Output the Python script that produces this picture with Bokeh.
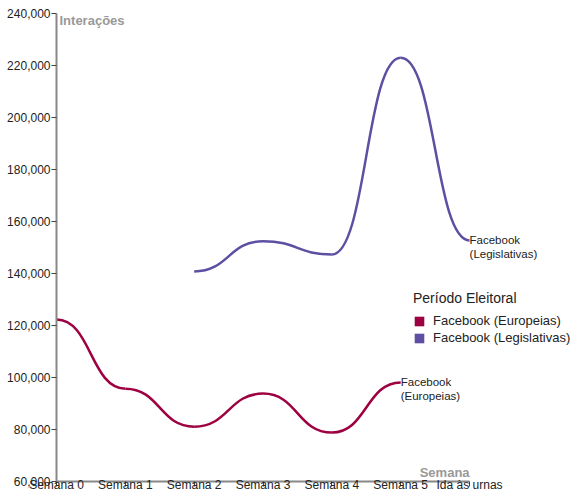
from bokeh.plotting import figure
from bokeh.models import (Range1d, FixedTicker, NumeralTickFormatter, Label,
                          Legend, LegendItem, ColumnDataSource)
from bokeh.core.properties import value
from bokeh.embed import file_html
from bokeh.resources import INLINE

# ---- data ----
weeks = ["Semana 0", "Semana 1", "Semana 2", "Semana 3", "Semana 4", "Semana 5", "Ida às urnas"]
series_names = ["Facebook (Europeias)", "Facebook (Legislativas)"]
europeias_idx = [0, 1, 2, 3, 4, 5]
europeias = [122300, 95700, 81100, 93800, 78800, 98100]
legislativas_idx = [2, 3, 4, 5, 6]
legislativas = [140800, 152400, 147300, 223000, 152700]
colors = ["#9e0142", "#5e4fa2"]
y_ticks = [60000, 80000, 100000, 120000, 140000, 160000, 180000, 200000, 220000, 240000]


def bump_x(xs, ys):
    """d3.curveBumpX: cubic segments with horizontal tangents at each point."""
    d = dict(x0=[], y0=[], x1=[], y1=[], cx0=[], cy0=[], cx1=[], cy1=[])
    for i in range(len(xs) - 1):
        xm = (xs[i] + xs[i + 1]) / 2
        d["x0"].append(xs[i]); d["y0"].append(ys[i])
        d["x1"].append(xs[i + 1]); d["y1"].append(ys[i + 1])
        d["cx0"].append(xm); d["cy0"].append(ys[i])
        d["cx1"].append(xm); d["cy1"].append(ys[i + 1])
    return d


p = figure(width=573, height=494, output_backend="svg", toolbar_location=None,
           x_range=Range1d(0, 7.51), y_range=Range1d(60000, 240000),
           min_border_top=13, min_border_left=56, min_border_right=0, min_border_bottom=0)
p.outline_line_color = None
p.grid.visible = False
p.background_fill_color = "white"
p.border_fill_color = "white"

# axes
xa = p.xaxis[0]
xa.ticker = FixedTicker(ticks=list(range(len(weeks))))
xa.major_label_overrides = {i: w for i, w in enumerate(weeks)}
xa.bounds = (0, len(weeks) - 1)
ya = p.yaxis[0]
ya.ticker = FixedTicker(ticks=y_ticks)
ya.formatter = NumeralTickFormatter(format="0,0")
for ax in (xa, ya):
    ax.axis_line_color = "#888888"
    ax.axis_line_width = 2
    ax.major_tick_line_color = "#444444"
    ax.major_tick_out = 5
    ax.major_tick_in = 0
    ax.minor_tick_line_color = None
    ax.major_label_text_font = "Liberation Sans"
    ax.major_label_text_font_size = "12px"
    ax.major_label_text_color = "#222222"
ya.major_label_standoff = 1
xa.major_label_standoff = -9

# lines
for idx, vals, col in [(europeias_idx, europeias, colors[0]), (legislativas_idx, legislativas, colors[1])]:
    src = ColumnDataSource(bump_x(idx, vals))
    p.bezier("x0", "y0", "x1", "y1", "cx0", "cy0", "cx1", "cy1", source=src,
             line_color=col, line_width=2.5)

# end labels
end_x = [europeias_idx[-1], legislativas_idx[-1]]
end_y = [europeias[-1], legislativas[-1]]
end_txt = [n.replace(" ", "\n") for n in series_names]
p.text(x=end_x, y=end_y, text=end_txt, text_font=value("Liberation Sans"),
       text_font_size="11.5px", text_color="#222222", text_baseline="top",
       text_align="left", x_offset=0, y_offset=-6, text_line_height=1.1)

# legend swatches (invisible zero-size renderers)
renderers = []
for name, col in zip(series_names, colors):
    r = p.quad(left=[0], right=[0], top=[60000], bottom=[60000], fill_color=col, line_color=None)
    renderers.append(r)
legend = Legend(items=[LegendItem(label=n, renderers=[r]) for n, r in zip(series_names, renderers)],
                location=(357, 136), title="Período Eleitoral",
                title_text_font="Liberation Sans", title_text_font_size="14px",
                title_text_font_style="normal", title_text_color="#222222", title_standoff=7,
                label_text_font="Liberation Sans", label_text_font_size="13px",
                label_text_color="#222222", glyph_width=12, glyph_height=12,
                label_height=13, label_standoff=8, spacing=2, padding=0, margin=0,
                border_line_color=None, background_fill_alpha=0)
p.add_layout(legend, "center")

# axis titles
p.add_layout(Label(x=0, y=240000, text="Interações", x_offset=3, y_offset=1,
                   text_baseline="top", text_font="Liberation Sans", text_font_size="13px",
                   text_font_style="bold", text_color="#999999"))
p.add_layout(Label(x=len(weeks) - 1, y=60000, text="Semana", y_offset=2,
                   text_align="right", text_baseline="bottom", text_font="Liberation Sans",
                   text_font_size="13px", text_font_style="bold", text_color="#999999"))

open("out.html", "w").write(file_html(p, INLINE))
